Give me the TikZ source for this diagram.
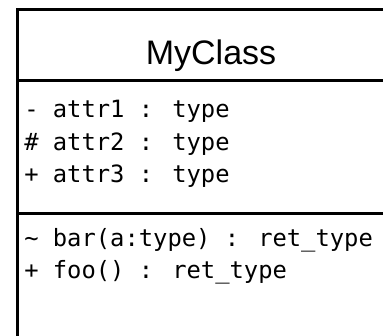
\documentclass[tikz,border=0pt]{standalone}
\usepackage{fontspec}
\newfontfamily\umlsans{Liberation Sans}
\newfontfamily\umlmono{DejaVu Sans Mono}

\tikzset{
	classname/.style={anchor=base,inner sep=0pt,font=\umlsans\fontsize{34}{40}\selectfont},
	member/.style={anchor=base west,inner sep=0pt,font=\umlmono\fontsize{23.8}{32}\selectfont}
}

\begin{document}
\begin{tikzpicture}[x=1pt,y=-1pt,line width=2.5pt]
	\clip (0,0) rectangle (383,336);
	%box
	\draw (17.3,9.7) rectangle (420,380);
	\draw (17.3,80.5) -- (420,80.5);
	\draw (17.3,213.3) -- (420,213.3);
	
	%name
	\node[classname] (cls) at (211,65) {MyClass};
	
	%attributes
	\node[member] (a1) at (23,118) {- attr1 : type};
	\node[member] (a2) at (23,150.5) {\# attr2 : type};
	\node[member] (a3) at (23,183) {+ attr3 : type};
	
	%methods
	\node[member] (m1) at (23,247) {\textasciitilde{} bar(a:type) : ret\_type};
	\node[member] (m2) at (23,279) {+ foo() : ret\_type};
	
\end{tikzpicture}
\end{document}
